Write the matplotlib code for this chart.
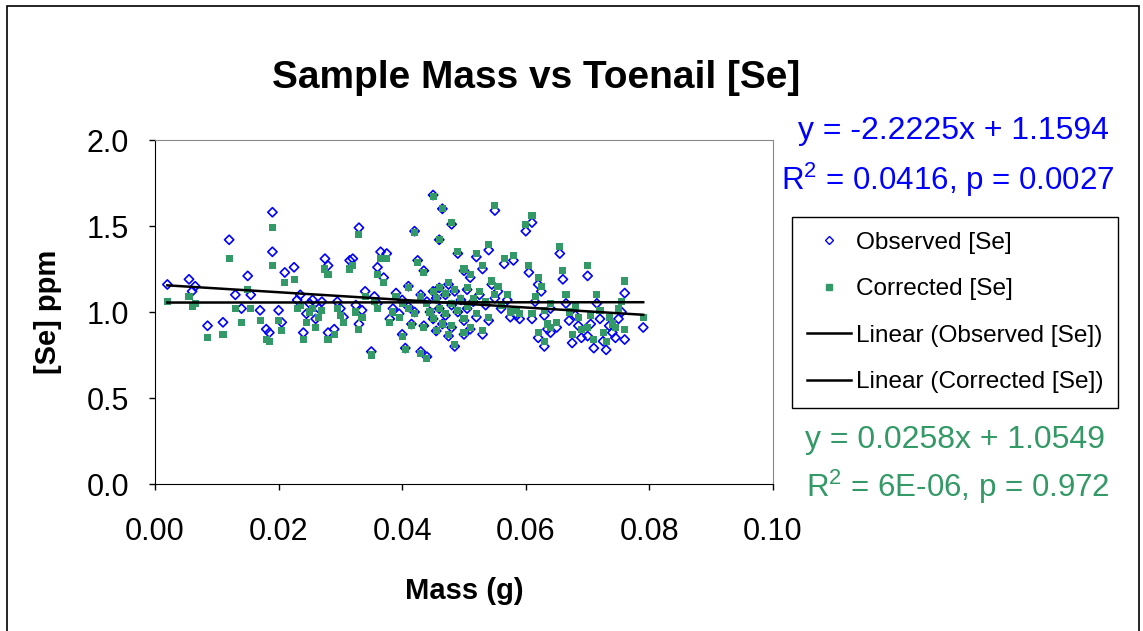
import matplotlib
matplotlib.use('Agg')
import matplotlib.pyplot as plt
from matplotlib.lines import Line2D
from matplotlib.patches import Rectangle

plt.rcParams['font.family'] = ['Liberation Sans', 'DejaVu Sans']
plt.rcParams['mathtext.fontset'] = 'custom'
plt.rcParams['mathtext.rm'] = 'Liberation Sans'

# mass (g), observed [Se] ppm, corrected [Se] ppm
mass = [0.0020, 0.0055, 0.0060, 0.0065, 0.0085, 0.0110, 0.0120, 0.0130, 0.0140, 0.0150,
        0.0155, 0.0170, 0.0180, 0.0185, 0.0190, 0.0190, 0.0200, 0.0205, 0.0210, 0.0225,
        0.0230, 0.0235, 0.0240, 0.0245, 0.0250, 0.0255, 0.0260, 0.0265, 0.0270, 0.0275,
        0.0280, 0.0280, 0.0290, 0.0295, 0.0300, 0.0305, 0.0315, 0.0320, 0.0330, 0.0330,
        0.0325, 0.0335, 0.0340, 0.0350, 0.0355, 0.0360, 0.0365, 0.0370, 0.0375, 0.0360,
        0.0380, 0.0385, 0.0390, 0.0395, 0.0400, 0.0405, 0.0400, 0.0410, 0.0410, 0.0415,
        0.0420, 0.0420, 0.0425, 0.0430, 0.0430, 0.0435, 0.0435, 0.0440, 0.0440, 0.0445,
        0.0450, 0.0450, 0.0450, 0.0455, 0.0455, 0.0460, 0.0460, 0.0460, 0.0465, 0.0465,
        0.0470, 0.0470, 0.0475, 0.0475, 0.0480, 0.0480, 0.0480, 0.0485, 0.0485, 0.0490,
        0.0490, 0.0495, 0.0500, 0.0500, 0.0500, 0.0505, 0.0505, 0.0510, 0.0510, 0.0515,
        0.0520, 0.0520, 0.0525, 0.0530, 0.0530, 0.0535, 0.0540, 0.0540, 0.0545, 0.0550,
        0.0550, 0.0555, 0.0560, 0.0565, 0.0570, 0.0575, 0.0580, 0.0585, 0.0590, 0.0600,
        0.0605, 0.0610, 0.0610, 0.0615, 0.0620, 0.0620, 0.0625, 0.0630, 0.0630, 0.0635,
        0.0640, 0.0640, 0.0650, 0.0655, 0.0660, 0.0665, 0.0670, 0.0675, 0.0680, 0.0685,
        0.0690, 0.0700, 0.0700, 0.0705, 0.0710, 0.0715, 0.0720, 0.0725, 0.0730, 0.0735,
        0.0740, 0.0745, 0.0750, 0.0755, 0.0760, 0.0760, 0.0790]

observed = [1.16, 1.19, 1.12, 1.15, 0.92, 0.94, 1.42, 1.10, 1.02, 1.21,
            1.10, 1.01, 0.90, 0.88, 1.58, 1.35, 1.01, 0.94, 1.23, 1.26,
            1.07, 1.10, 0.88, 0.99, 1.05, 1.07, 0.96, 1.02, 1.06, 1.31,
            1.27, 0.88, 0.90, 1.06, 1.02, 0.97, 1.30, 1.31, 1.49, 0.93,
            1.04, 1.01, 1.12, 0.77, 1.09, 1.26, 1.35, 1.20, 1.34, 1.05,
            0.96, 1.02, 1.11, 0.99, 0.87, 0.79, 1.07, 1.15, 1.03, 0.93,
            1.47, 1.00, 1.30, 0.77, 1.10, 1.24, 0.92, 1.06, 0.74, 1.00,
            1.68, 1.12, 0.96, 1.08, 0.89, 1.42, 1.14, 1.02, 0.93, 1.60,
            1.10, 0.98, 1.16, 0.86, 1.51, 1.04, 0.91, 1.12, 0.80, 1.34,
            1.00, 1.07, 1.24, 0.95, 0.87, 1.13, 1.02, 1.20, 0.90, 1.06,
            1.32, 0.97, 1.10, 1.25, 0.87, 1.04, 1.36, 0.95, 1.16, 1.59,
            1.08, 1.12, 1.02, 1.28, 1.07, 0.97, 1.30, 0.98, 0.96, 1.47,
            1.23, 1.52, 0.96, 1.06, 1.16, 0.85, 1.12, 0.80, 0.98, 0.90,
            0.88, 1.02, 0.91, 1.34, 1.19, 1.05, 0.95, 0.82, 0.98, 0.92,
            0.85, 1.21, 0.86, 0.93, 0.79, 1.05, 0.96, 0.83, 0.78, 0.92,
            0.88, 0.85, 0.96, 1.00, 1.11, 0.84, 0.91]

corrected = [1.06, 1.09, 1.03, 1.05, 0.85, 0.87, 1.31, 1.02, 0.94, 1.13,
             1.02, 0.95, 0.84, 0.83, 1.49, 1.27, 0.95, 0.89, 1.17, 1.19,
             1.02, 1.04, 0.84, 0.94, 1.00, 1.02, 0.91, 0.97, 1.01, 1.25,
             1.22, 0.84, 0.87, 1.02, 0.98, 0.94, 1.25, 1.27, 1.45, 0.90,
             1.00, 0.97, 1.09, 0.75, 1.06, 1.22, 1.31, 1.17, 1.31, 1.02,
             0.94, 1.00, 1.09, 0.97, 0.86, 0.78, 1.05, 1.14, 1.02, 0.92,
             1.46, 0.99, 1.29, 0.76, 1.09, 1.23, 0.91, 1.05, 0.73, 1.00,
             1.67, 1.12, 0.96, 1.08, 0.89, 1.42, 1.14, 1.02, 0.93, 1.60,
             1.11, 0.99, 1.17, 0.87, 1.52, 1.05, 0.92, 1.13, 0.81, 1.35,
             1.01, 1.08, 1.25, 0.96, 0.88, 1.14, 1.03, 1.22, 0.91, 1.08,
             1.34, 0.99, 1.12, 1.27, 0.89, 1.06, 1.39, 0.97, 1.18, 1.62,
             1.10, 1.15, 1.04, 1.31, 1.10, 1.00, 1.33, 1.01, 0.99, 1.51,
             1.27, 1.56, 0.99, 1.09, 1.20, 0.88, 1.15, 0.83, 1.01, 0.93,
             0.91, 1.05, 0.94, 1.38, 1.24, 1.10, 1.00, 0.87, 1.03, 0.97,
             0.90, 1.27, 0.91, 0.98, 0.84, 1.10, 1.01, 0.88, 0.83, 0.97,
             0.93, 0.91, 1.02, 1.06, 1.18, 0.90, 0.97]

# trend line coefficients as printed on the chart
obs_fit = (-2.2225, 1.1594)
cor_fit = (0.0258, 1.0549)

blue = '#0000FF'
green = '#339966'

fig = plt.figure(figsize=(11.43, 6.31), dpi=100)
ax = fig.add_axes([155 / 1143, 1 - 484 / 631, 618 / 1143, 344 / 631])

ax.scatter(mass, observed, marker='D', s=22, facecolors='none', edgecolors=blue,
           linewidths=1.2, zorder=3)
ax.scatter(mass, corrected, marker='s', s=26, color=green, edgecolors='none', zorder=4)

x_line = [min(mass), max(mass)]
ax.plot(x_line, [obs_fit[0] * x + obs_fit[1] for x in x_line], color='black', lw=1.8, zorder=5)
ax.plot(x_line, [cor_fit[0] * x + cor_fit[1] for x in x_line], color='black', lw=1.8, zorder=5)

ax.set_xlim(0, 0.10)
ax.set_ylim(0, 2.0)
ax.set_xticks([0.00, 0.02, 0.04, 0.06, 0.08, 0.10])
ax.set_xticklabels(['0.00', '0.02', '0.04', '0.06', '0.08', '0.10'])
ax.set_yticks([0.0, 0.5, 1.0, 1.5, 2.0])
ax.set_yticklabels(['0.0', '0.5', '1.0', '1.5', '2.0'])
ax.tick_params(direction='out', length=4.5, width=1, labelsize=22, color='black')
ax.tick_params(axis='x', pad=19)
ax.tick_params(axis='y', pad=14)

for side in ['top', 'right']:
    ax.spines[side].set_color('#888888')
for side in ['left', 'bottom']:
    ax.spines[side].set_color('black')

ax.set_xlabel('Mass (g)', fontsize=21, fontweight='bold', labelpad=22)
ax.set_ylabel('[Se] ppm', fontsize=21, fontweight='bold', labelpad=18)

fig.text(536 / 1143, 1 - 78 / 631, 'Sample Mass vs Toenail [Se]', fontsize=28,
         fontweight='bold', ha='center', va='center')

fig.text(953 / 1143, 1 - 131 / 631, 'y = -2.2225x + 1.1594', color=blue,
         fontsize=23, ha='center', va='center')
fig.text(948 / 1143, 1 - 180 / 631, 'R$^2$ = 0.0416, p = 0.0027', color=blue,
         fontsize=22.5, ha='center', va='center')
fig.text(955 / 1143, 1 - 440 / 631, 'y = 0.0258x + 1.0549', color=green,
         fontsize=23, ha='center', va='center')
fig.text(958 / 1143, 1 - 487 / 631, 'R$^2$ = 6E-06, p = 0.972', color=green,
         fontsize=22.5, ha='center', va='center')

handles = [
    Line2D([], [], marker='D', ls='none', markerfacecolor='none', markeredgecolor=blue,
           markersize=4, markeredgewidth=1),
    Line2D([], [], marker='s', ls='none', color=green, markersize=5),
    Line2D([], [], color='black', lw=1.8),
    Line2D([], [], color='black', lw=1.8),
]
labels = ['Observed [Se]', 'Corrected [Se]', 'Linear (Observed [Se])', 'Linear (Corrected [Se])']
leg = fig.legend(handles, labels, loc='upper left',
                 bbox_to_anchor=(792 / 1143, 1 - 217 / 631), fontsize=17.6,
                 frameon=True, fancybox=False, edgecolor='black', framealpha=1,
                 handlelength=1.8, handletextpad=0.2, labelspacing=1.0,
                 borderpad=0.6, borderaxespad=0)
leg.get_frame().set_linewidth(1)

fig.patches.append(Rectangle((7 / 1143, -0.05), 1132 / 1143, 1.05 - 6 / 631,
                             transform=fig.transFigure, fill=False,
                             edgecolor='black', lw=1.2))

fig.savefig('out.png', dpi=100)
